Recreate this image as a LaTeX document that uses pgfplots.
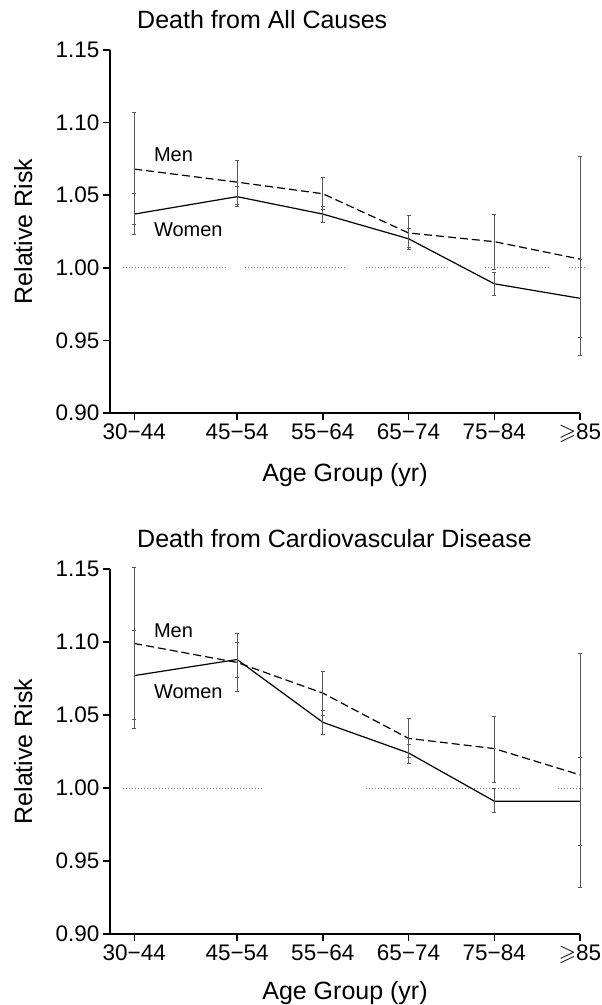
\documentclass[border=0pt]{standalone}
\usepackage{pgfplots}
\pgfplotsset{compat=1.18}
\usepackage{pgfplotstable}
\usepackage{amssymb}
\usepackage{fontspec}
\setmainfont{Liberation Sans}

\newcommand\tfont{\fontsize{25}{30}\selectfont}
\newcommand\kfont{\fontsize{22.5}{27}\selectfont}
\newcommand\lfont{\fontsize{20}{24}\selectfont}

% relative risk with 95% limits
\pgfplotstableread{
x   y     lo    hi
0   1.068 1.030 1.107
1.2 1.059 1.044 1.074
2.2 1.051 1.040 1.062
3.2 1.024 1.014 1.036
4.2 1.018 0.999 1.037
5.2 1.006 0.940 1.077
}\allmen
\pgfplotstableread{
x   y     lo    hi
0   1.037 1.023 1.051
1.2 1.049 1.042 1.056
2.2 1.037 1.031 1.042
3.2 1.020 1.013 1.027
4.2 0.989 0.981 0.997
5.2 0.979 0.952 1.006
}\allwomen
\pgfplotstableread{
x   y     lo    hi
0   1.099 1.047 1.151
1.2 1.086 1.066 1.106
2.2 1.065 1.050 1.080
3.2 1.034 1.021 1.048
4.2 1.027 1.004 1.049
5.2 1.009 0.932 1.092
}\cvdmen
\pgfplotstableread{
x   y     lo    hi
0   1.077 1.041 1.108
1.2 1.088 1.076 1.100
2.2 1.045 1.037 1.053
3.2 1.024 1.017 1.030
4.2 0.991 0.983 1.000
5.2 0.991 0.961 1.021
}\cvdwomen

\pgfplotsset{
  rr/.style={
    scale only axis, width=470pt,
    xmin=-0.283, xmax=5.2, ymin=0.90, ymax=1.15,
    axis x line*=bottom, axis y line*=left,
    axis line style={line width=1.8pt, -},
    xtick={0,1.2,2.2,3.2,4.2,5.2},
    xticklabels={30−44,45−54,55−64,65−74,75−84,$\geqslant$85},
    ytick={0.90,0.95,1.00,1.05,1.10,1.15},
    yticklabel style={/pgf/number format/.cd, fixed, fixed zerofill, precision=2, assume math mode=true},
    tick align=outside, major tick length=7pt,
    tick style={line width=1.5pt, black},
    ticklabel style={font=\kfont},
    clip=false,
  },
  ebar/.style={error bars/.cd, y dir=both, y explicit,
    error bar style={solid, gray!70!black, line width=0.8pt},
    error mark options={rotate=90, solid, gray!70!black, line width=0.8pt, mark size=2pt}},
  men/.style={black, line width=1.2pt, dash pattern=on 8pt off 4pt, ebar},
  women/.style={black, line width=1.2pt, ebar},
  ref/.style={gray, line width=0.9pt, dash pattern=on 1pt off 2pt},
}

\begin{document}
\begin{tikzpicture}
\path[use as bounding box] (0,0) rectangle (602pt,-1005pt);

% top panel
\begin{axis}[rr, height=363pt, at={(110pt,-413pt)}, anchor=south west]
\addplot[ref] coordinates {(-0.13,1) (1.09,1)};
\addplot[ref] coordinates {(1.29,1) (2.46,1)};
\addplot[ref] coordinates {(2.70,1) (3.66,1)};
\addplot[ref] coordinates {(4.09,1) (4.84,1)};
\addplot[ref] coordinates {(5.07,1) (5.25,1)};
\addplot[men] table[x=x, y=y, y error plus expr=\thisrow{hi}-\thisrow{y}, y error minus expr=\thisrow{y}-\thisrow{lo}] {\allmen};
\addplot[women] table[x=x, y=y, y error plus expr=\thisrow{hi}-\thisrow{y}, y error minus expr=\thisrow{y}-\thisrow{lo}] {\allwomen};
\node[font=\lfont, anchor=west] at (axis cs:0.19,1.078) {Men};
\node[font=\lfont, anchor=west] at (axis cs:0.19,1.026) {Women};
\end{axis}

% bottom panel
\begin{axis}[rr, height=365pt, at={(110pt,-934pt)}, anchor=south west]
\addplot[ref] coordinates {(-0.13,1) (1.50,1)};
\addplot[ref] coordinates {(2.70,1) (4.49,1)};
\addplot[ref] coordinates {(4.94,1) (5.25,1)};
\addplot[men] table[x=x, y=y, y error plus expr=\thisrow{hi}-\thisrow{y}, y error minus expr=\thisrow{y}-\thisrow{lo}] {\cvdmen};
\addplot[women] table[x=x, y=y, y error plus expr=\thisrow{hi}-\thisrow{y}, y error minus expr=\thisrow{y}-\thisrow{lo}] {\cvdwomen};
\node[font=\lfont, anchor=west] at (axis cs:0.19,1.108) {Men};
\node[font=\lfont, anchor=west] at (axis cs:0.19,1.066) {Women};
\end{axis}

\node[font=\tfont, anchor=base west, inner sep=0pt] at (137pt,-28pt) {Death from All Causes};
\node[font=\tfont, anchor=base west, inner sep=0pt] at (137pt,-547pt) {Death from Cardiovascular Disease};
\node[font=\tfont, anchor=base, inner sep=0pt] at (345pt,-481pt) {Age Group (yr)};
\node[font=\tfont, anchor=base, inner sep=0pt] at (345pt,-999pt) {Age Group (yr)};
\node[font=\tfont, anchor=base, inner sep=0pt, rotate=90] at (32pt,-231.5pt) {Relative Risk};
\node[font=\tfont, anchor=base, inner sep=0pt, rotate=90] at (32pt,-751.5pt) {Relative Risk};
\end{tikzpicture}
\end{document}
